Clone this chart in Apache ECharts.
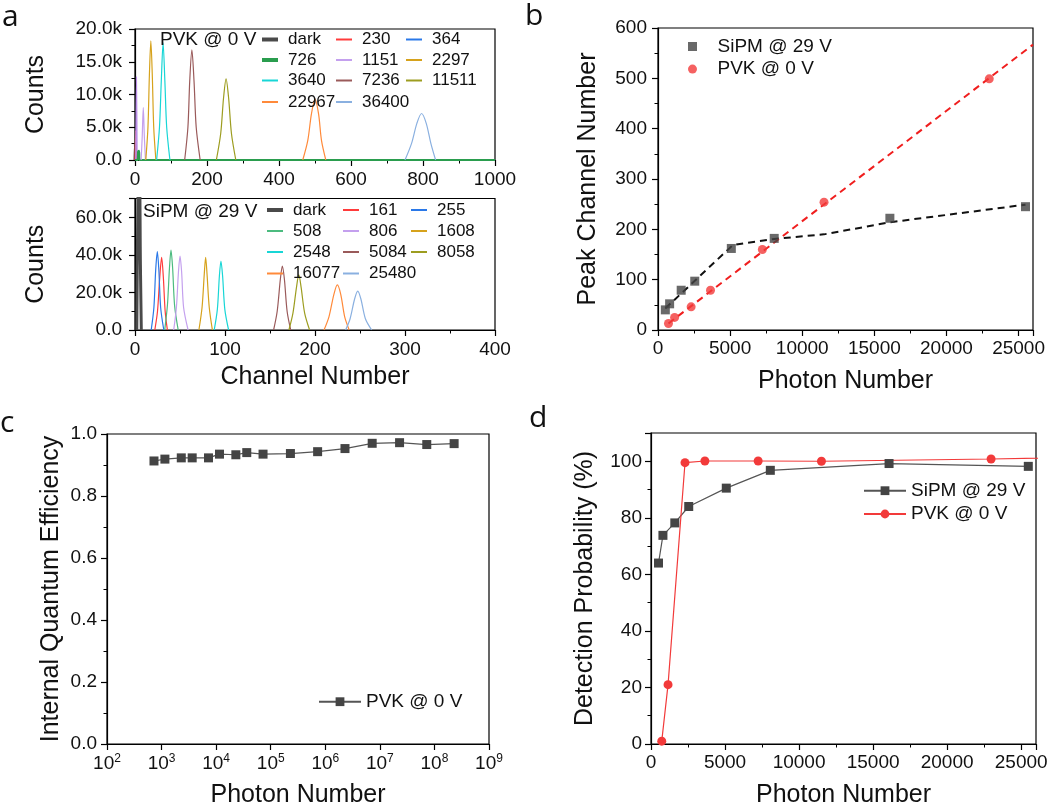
<!DOCTYPE html>
<html><head><meta charset="utf-8">
<script src="https://cdn.jsdelivr.net/npm/echarts@6/dist/echarts.min.js"></script>
<style>html,body{margin:0;padding:0;background:#fff}#c{width:1050px;height:807px}</style>
</head><body><div id="c"></div>
<script>
// ================= DATA =================
// Panel a (top): PVK @ 0 V pulse-height spectra  [channel, counts]
const pvkLabels = ['dark','230','364','726','1151','2297','3640','7236','11511','22967','36400'];
const pvkDark  = [[0,0],[1,2500],[2,0]];
const pvk230   = [[0,0],[2,4500],[4,0]];
const pvk364   = [[2,0],[4,12700],[6,0]];
const pvk726   = [[0,0],[7,0],[9,1300],[11,1400],[13,0],[1000,0]];
const pvk1151  = [[17,0],[20,3500],[23,8000],[26,3500],[29,0]];
const pvk2297  = [[30,0],[36,5000],[40,13000],[44,18200],[48,13000],[52,5000],[58,0]];
const pvk3640  = [[60,0],[68,5000],[73,12000],[78,17900],[83,12000],[88,5000],[97,0]];
const pvk7236  = [[138,0],[147,5000],[152,12000],[158,16800],[164,12000],[170,5000],[181,0]];
const pvk11511 = [[226,0],[238,4000],[246,9500],[253,12400],[260,9500],[268,4000],[280,0]];
const pvk22967 = [[466,0],[480,3000],[490,7000],[500,9300],[510,7000],[518,3000],[530,0]];
const pvk36400 = [[750,0],[768,2500],[783,5600],[796,7100],[809,5600],[822,2500],[835,0]];
const pvkSpectra = [pvkDark,pvk230,pvk364,pvk726,pvk1151,pvk2297,pvk3640,pvk7236,pvk11511,pvk22967,pvk36400];

// Panel a (bottom): SiPM @ 29 V pulse-height spectra  [channel, counts]
const sipmLabels = ['dark','161','255','508','806','1608','2548','5084','8058','16077','25480'];
const sipmDark  = [[2,0],[3,58000],[4,80000],[5,80000],[6,35000],[7,0]];
const sipm161   = [[22,0],[25,10000],[27.5,28000],[29.6,38700],[31.5,28000],[33.5,10000],[36,0]];
const sipm255   = [[18,0],[21,12000],[23,32000],[24.8,41700],[26.5,32000],[28.5,12000],[32,0]];
const sipm508   = [[33,0],[36,13000],[38.3,33000],[40,42500],[41.8,33000],[44,13000],[48,0]];
const sipm806   = [[43,0],[46,12000],[48.3,31000],[50,39400],[51.8,31000],[54,12000],[59,0]];
const sipm1608  = [[71,0],[74.5,12000],[77,30000],[78.5,38700],[80,30000],[82.5,12000],[86,0]];
const sipm2548  = [[88,0],[91.5,11000],[93.8,29000],[95.5,36700],[97.3,29000],[99.8,11000],[104,0]];
const sipm5084  = [[154,0],[158,10000],[161.5,27000],[163.7,34000],[166,27000],[169,10000],[173,0]];
const sipm8058  = [[171,0],[175.5,9000],[179.5,23000],[182,29300],[184.5,23000],[188.5,9000],[194,0]];
const sipm16077 = [[210,0],[215.5,7000],[221,19000],[224.8,24000],[228.6,19000],[233,7000],[238,0]];
const sipm25480 = [[234,0],[239,6000],[244,16500],[247.5,20700],[251,16500],[256,6000],[263,0]];
const sipmSpectra = [sipmDark,sipm161,sipm255,sipm508,sipm806,sipm1608,sipm2548,sipm5084,sipm8058,sipm16077,sipm25480];

// Panels b & d
const sipmPhotons = [508,806,1608,2548,5084,8058,16077,25480];
const sipmPeak    = [40,52,79,97,162,182,222,245];
const sipmDetect  = [64,73.8,78.2,84,90.5,96.8,99.2,98.2];
const pvkPhotons  = [726,1151,2297,3640,7236,11511,22967,36400];
const pvkPeak     = [13,25,46,79,160,254,499,796];
const pvkDetect   = [1,21,99.5,100.1,100.1,100,100.8,102];
const sipmFitPhotons = [508,5200,8058,11500,16077,25480];
const sipmFitPeak    = [43,169,181,190,214,249];
const pvkFitPhotons  = [726,26000];
const pvkFitPeak     = [13,567];

// Panel c
const iqePhotons = [726,1151,2297,3640,7236,11511,22967,36400,72360,229670,723600,2296700,7236000,22967000,72360000,229670000];
const iqeValues  = [0.913,0.919,0.923,0.923,0.923,0.935,0.933,0.940,0.935,0.937,0.943,0.953,0.970,0.972,0.966,0.969];

// ================= STYLE =================
const FONT = '"Liberation Sans", Arial, Helvetica, sans-serif';
const LFONT = '"Open Sans", "DejaVu Sans", sans-serif';
const pvkColors  = ['#4a4a4a','#ff3b3b','#b98ee8','#2a9d4e','#c4a0ee','#d6a21c','#18d6d6','#9a5a5a','#9d9d20','#ff8a3a','#8ab0e0'];
const pvkLegendColors = ['#4a4a4a','#ff3b3b','#2a78e8','#2a9d4e','#c4a0ee','#d6a21c','#18d6d6','#9a5a5a','#9d9d20','#ff8a3a','#8ab0e0'];
const pvkWidths  = [3,1.2,1.2,2.2,1.2,1.2,1.2,1.2,1.2,1.2,1.2];
const sipmColors = ['#4a4a4a','#ff3b3b','#2a78e8','#4cbb7f','#c4a0ee','#d6a21c','#18d6d6','#9a5a5a','#9d9d20','#ff8a3a','#8ab0e0'];
const sipmWidths = [3,1.2,1.2,1.2,1.2,1.2,1.2,1.2,1.2,1.2,1.2];
const BLACK = '#444444', RED = '#f23a3a';

function zip(a,b){ return a.map((v,i)=>[v,b[i]]); }
const plain = v => String(v);

function mkAxis(o){
  const ax = {
    type: o.type || 'value', gridIndex: o.grid, min: o.min, max: o.max,
    axisLine:{show:true,onZero:false,lineStyle:{color:'#000',width:1.2}},
    axisTick:{show:true,inside:false,length:6,lineStyle:{color:'#000',width:1.2}},
    minorTick:{show:o.minor!==false,splitNumber:2,length:3.5,lineStyle:{color:'#000',width:1}},
    splitLine:{show:false}, minorSplitLine:{show:false},
    axisLabel:Object.assign({show:true,color:'#111',fontSize:19,fontFamily:FONT,margin:o.margin||9,
      showMaxLabel:o.showMax, showMinLabel:true, formatter:plain}, o.label||{}),
    name:o.name||'', nameLocation:'middle', nameGap:o.gap||30,
    nameTextStyle:{color:'#111',fontSize:25,fontFamily:FONT}
  };
  if (o.interval != null) ax.interval = o.interval;
  if (o.type === 'log') ax.logBase = 10;
  return ax;
}

const kFmt = v => v === 0 ? '0.0' : (v/1000).toFixed(1) + 'k';

const grids = [
  {left:135, top:29,    width:360, height:131},
  {left:135, top:198.5, width:360, height:131.5},
  {left:658, top:28,    width:375, height:302},
  {left:107, top:434,   width:382, height:310},
  {left:651, top:433,   width:385, height:311}
].map(g => Object.assign({show:true, borderColor:'#000', borderWidth:1.2, backgroundColor:'transparent', containLabel:false, outerBoundsMode:'none'}, g));

const xAxes = [
  mkAxis({grid:0,min:0,max:1000,interval:200,showMax:true,margin:10}),
  mkAxis({grid:1,min:0,max:400,interval:100,showMax:true,margin:10,name:'Channel Number',gap:35}),
  mkAxis({grid:2,min:0,max:26000,interval:5000,showMax:false,name:'Photon Number',gap:39}),
  mkAxis({grid:3,type:'log',min:100,max:1e9,showMax:true,minor:false,name:'Photon Number',gap:39,
    label:{formatter:v=>'10{s|'+Math.round(Math.log10(v))+'}', rich:{s:{fontSize:12,fontFamily:FONT,color:'#111',padding:[0,0,10,0]}}}}),
  mkAxis({grid:4,min:0,max:26000,interval:5000,showMax:false,name:'Photon Number',gap:39})
];
const yAxes = [
  mkAxis({grid:0,min:0,max:20000,interval:5000,showMax:true,margin:13,name:'Counts',gap:86,label:{formatter:kFmt}}),
  mkAxis({grid:1,min:0,max:70000,interval:20000,showMax:false,margin:13,name:'Counts',gap:86,label:{formatter:kFmt}}),
  mkAxis({grid:2,min:0,max:600,interval:100,showMax:true,margin:11,name:'Peak Channel Number',gap:57}),
  mkAxis({grid:3,min:0,max:1,interval:0.2,showMax:true,margin:10,name:'Internal Quantum Efficiency',gap:43,label:{formatter:v=>v.toFixed(1)}}),
  mkAxis({grid:4,min:0,max:110,interval:20,showMax:false,margin:9,name:'Detection Probability (%)',gap:53})
];

const series = [];
pvkSpectra.forEach((d,i)=>series.push({type:'line',name:'a1|'+pvkLabels[i],xAxisIndex:0,yAxisIndex:0,data:d,
  symbol:'none',smooth:0.3,clip:true,silent:true,lineStyle:{color:pvkColors[i],width:pvkWidths[i]},itemStyle:{color:pvkLegendColors[i]}}));
sipmSpectra.forEach((d,i)=>series.push({type:'line',name:'a2|'+sipmLabels[i],xAxisIndex:1,yAxisIndex:1,data:d,
  symbol:'none',smooth:0.3,clip:true,silent:true,lineStyle:{color:sipmColors[i],width:sipmWidths[i]},itemStyle:{color:sipmColors[i]}}));

// b
series.push({type:'line',name:'b|fitS',xAxisIndex:2,yAxisIndex:2,data:zip(sipmFitPhotons,sipmFitPeak),symbol:'none',clip:true,
  lineStyle:{color:'#111',width:2,type:[7,5]},z:3});
series.push({type:'line',name:'b|fitP',xAxisIndex:2,yAxisIndex:2,data:zip(pvkFitPhotons,pvkFitPeak),symbol:'none',clip:true,
  lineStyle:{color:'#f01e1e',width:2,type:[7,5]},z:3});
series.push({type:'scatter',name:'b|SiPM @ 29 V',xAxisIndex:2,yAxisIndex:2,data:zip(sipmPhotons,sipmPeak),symbol:'rect',symbolSize:9,clip:true,
  itemStyle:{color:BLACK},z:4});
series.push({type:'scatter',name:'b|PVK @ 0 V',xAxisIndex:2,yAxisIndex:2,data:zip(pvkPhotons,pvkPeak),symbol:'circle',symbolSize:9,clip:true,
  itemStyle:{color:RED},z:4});

// c
series.push({type:'line',name:'c|PVK @ 0 V',xAxisIndex:3,yAxisIndex:3,data:zip(iqePhotons,iqeValues),symbol:'rect',symbolSize:9,showSymbol:true,
  lineStyle:{color:'#555',width:1.2},itemStyle:{color:BLACK}});

// d
series.push({type:'line',name:'d|SiPM @ 29 V',xAxisIndex:4,yAxisIndex:4,data:zip(sipmPhotons,sipmDetect),symbol:'rect',symbolSize:9,clip:true,
  lineStyle:{color:'#555',width:1.2},itemStyle:{color:BLACK}});
series.push({type:'line',name:'d|PVK @ 0 V',xAxisIndex:4,yAxisIndex:4,data:zip(pvkPhotons,pvkDetect),symbol:'circle',symbolSize:9,clip:true,
  lineStyle:{color:RED,width:1.2},itemStyle:{color:RED}});

// legends
const stripName = n => n.split('|')[1];
const legends = [];
function histLegend(prefix, labels, widths, colors, colX, rowY){
  labels.forEach((lab,i)=>{
    const col = i % 3, row = Math.floor(i/3);
    const h = widths[i] >= 2 ? 4 : 2;
    legends.push({left:colX[col], top:rowY[row]-8.5, padding:0, itemWidth:16, itemHeight:h, selectedMode:false,
      data:[{name:prefix+lab, icon:'rect', itemStyle:{color:colors[i]}}], formatter:stripName,
      textStyle:{fontSize:17,fontFamily:FONT,color:'#111',padding:[0,0,0,5]}});
  });
}
histLegend('a1|', pvkLabels, pvkWidths, pvkLegendColors, [262,336,406], [39.5,60,80.5,102]);
histLegend('a2|', sipmLabels, sipmWidths, sipmColors, [267,343,411], [210,231,252,273.5]);
legends.push({left:688, top:37, orient:'vertical', padding:0, itemGap:3.6, itemWidth:40, itemHeight:9, selectedMode:false,
  data:[{name:'b|SiPM @ 29 V',icon:'path://M0,0L10,0L10,10L0,10Z'},{name:'b|PVK @ 0 V',icon:'circle'}],
  formatter:stripName, textStyle:{fontSize:19,fontFamily:FONT,color:'#111'}});
legends.push({left:318, top:692.2, padding:0, itemWidth:42, itemHeight:11, selectedMode:false,
  data:[{name:'c|PVK @ 0 V'}], formatter:stripName, textStyle:{fontSize:19,fontFamily:FONT,color:'#111'}});
legends.push({left:863, top:481.2, orient:'vertical', padding:0, itemGap:4.3, itemWidth:42, itemHeight:11, selectedMode:false,
  data:[{name:'d|SiPM @ 29 V'},{name:'d|PVK @ 0 V'}], formatter:stripName, textStyle:{fontSize:19,fontFamily:FONT,color:'#111'}});

const txt = (t,x,y,font,extra) => Object.assign({type:'text',x:x,y:y,z:100,silent:true,
  style:{text:t,font:font,fill:'#111',textVerticalAlign:'middle',verticalAlign:'middle'}}, extra||{});
const graphic = [
  txt('a',2,17,'30px '+LFONT),
  txt('b',525,16,'30px '+LFONT),
  txt('c',0,423,'30px '+LFONT),
  txt('d',529,418,'30px '+LFONT),
  txt('PVK @ 0 V',160,40,'19px '+FONT),
  txt('SiPM @ 29 V',143,212,'19px '+FONT)
];

const chart = echarts.init(document.getElementById('c'), null, {renderer:'canvas'});
chart.setOption({
  animation:false,
  backgroundColor:'#ffffff',
  textStyle:{fontFamily:FONT},
  grid:grids, xAxis:xAxes, yAxis:yAxes, series:series, legend:legends, graphic:graphic
});
</script></body></html>
